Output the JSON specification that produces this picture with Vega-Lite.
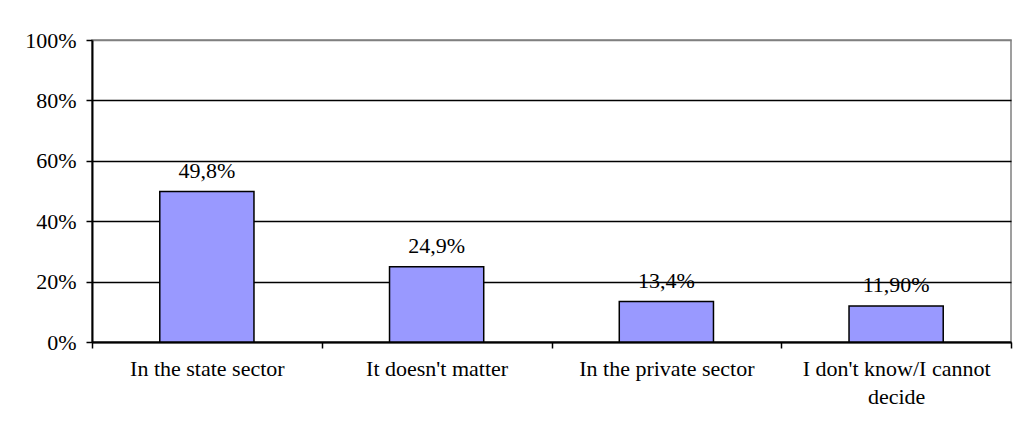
{
  "$schema": "https://vega.github.io/schema/vega-lite/v6.json",
  "width": 919,
  "height": 302,
  "autosize": {"type": "none"},
  "padding": {"left": 92, "top": 40, "right": 19, "bottom": 90},
  "background": "white",
  "config": {
    "view": {"stroke": "#808080", "strokeWidth": 1.5},
    "font": "Liberation Serif"
  },
  "data": {
    "values": [
      {"category": "In the state sector", "value": 0.498, "label": "49,8%"},
      {"category": "It doesn't matter", "value": 0.249, "label": "24,9%"},
      {"category": "In the private sector", "value": 0.134, "label": "13,4%"},
      {"category": "I don't know/I cannot decide", "value": 0.119, "label": "11,90%"}
    ]
  },
  "encoding": {
    "x": {
      "field": "category",
      "type": "nominal",
      "sort": null,
      "scale": {"paddingInner": 0, "paddingOuter": 0},
      "axis": {
        "title": null,
        "labelAngle": 0,
        "labelFont": "Liberation Serif",
        "labelFontSize": 22,
        "labelColor": "black",
        "labelPadding": 10,
        "labelLineHeight": 28,
        "labelLimit": 400,
        "labelExpr": "datum.label == \"I don't know/I cannot decide\" ? [\"I don't know/I cannot\", 'decide'] : datum.label",
        "tickBand": "extent",
        "tickSize": 6,
        "tickColor": "black",
        "tickWidth": 1.5,
        "domainColor": "black",
        "domainWidth": 2,
        "grid": false
      }
    }
  },
  "layer": [
    {
      "mark": {"type": "bar", "color": "#9999FF", "stroke": "black", "strokeWidth": 1.5, "width": {"band": 0.41}},
      "encoding": {
        "y": {
          "field": "value",
          "type": "quantitative",
          "scale": {"domain": [0, 1]},
          "axis": {
            "title": null,
            "format": ".0%",
            "values": [0, 0.2, 0.4, 0.6, 0.8, 1],
            "labelFont": "Liberation Serif",
            "labelFontSize": 22,
            "labelColor": "black",
            "labelPadding": 10,
            "tickSize": 6,
            "tickColor": "black",
            "tickWidth": 1.5,
            "domainColor": "black",
            "domainWidth": 2,
            "grid": true,
            "gridColor": {"condition": {"test": "datum.value === 1", "value": "#808080"}, "value": "black"},
            "gridWidth": 1.5,
            "gridOpacity": 1
          }
        }
      }
    },
    {
      "mark": {"type": "text", "baseline": "bottom", "dy": -9, "fontSize": 22, "font": "Liberation Serif", "color": "black"},
      "encoding": {
        "y": {"field": "value", "type": "quantitative"},
        "text": {"field": "label"}
      }
    }
  ]
}
